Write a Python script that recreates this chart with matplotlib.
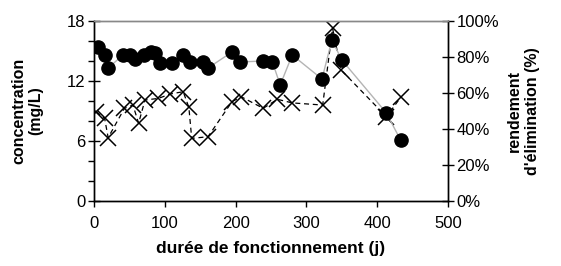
import matplotlib
matplotlib.use("Agg")
import matplotlib.pyplot as plt
from matplotlib.ticker import MultipleLocator, FuncFormatter

plt.rcParams['font.family'] = ['Liberation Sans', 'DejaVu Sans']

# concentration (mg/L) - ronds noirs
jours_conc = [6, 15.5, 20, 41, 51, 58, 70, 81, 86, 93, 110, 126, 136,
              154, 161, 195, 206, 239, 252, 263, 280, 322, 336, 350, 413, 433]
concentration = [15.4, 14.6, 13.3, 14.6, 14.6, 14.2, 14.6, 14.9, 14.8, 13.8,
                 13.8, 14.6, 13.9, 13.9, 13.3, 14.9, 13.9, 14.0, 13.9, 11.6,
                 14.6, 12.2, 16.1, 14.1, 8.8, 6.1]

# rendement d'élimination (%) - croix
jours_rend = [3, 15, 20, 43, 55, 63, 72, 91, 108, 126, 134, 138, 161,
              195, 208, 239, 259, 280, 323, 337, 349, 413, 434]
rendement = [49.6, 45.9, 35.2, 51.5, 53.3, 43.2, 56.1, 57.0, 59.5, 60.7,
             52.0, 34.8, 35.7, 55.2, 57.9, 51.5, 56.5, 54.5, 53.3, 95.9,
             72.8, 46.8, 58.0]

fig = plt.figure(figsize=(5.61, 2.66), dpi=100)
ax = fig.add_axes([94 / 561, 1 - 201 / 266, (448 - 94) / 561, 180 / 266])
ax2 = ax.twinx()

ax2.plot(jours_rend, rendement, color='black', lw=0.9, ls=(0, (4, 3)),
         marker='x', ms=12, mew=1.1, mec='black', zorder=2)
ax.plot(jours_conc, concentration, color='#b4b4b4', lw=1.0,
        marker='o', ms=9.5, mfc='black', mec='black', zorder=3)

# ronds au-dessus des croix
ax.set_zorder(ax2.get_zorder() + 1)
ax.patch.set_visible(False)

ax.set_xlim(0, 500)
ax.set_ylim(0, 18)
ax2.set_ylim(0, 100)

ax.xaxis.set_major_locator(MultipleLocator(100))
ax.yaxis.set_major_locator(MultipleLocator(6))
ax.yaxis.set_minor_locator(MultipleLocator(2))
ax2.yaxis.set_major_locator(MultipleLocator(20))
ax2.yaxis.set_major_formatter(FuncFormatter(lambda v, p: f"{v:.0f}%"))

for a in (ax, ax2):
    a.spines['top'].set_color('#888888')
    a.spines['top'].set_linewidth(1.0)
    for s in ('left', 'right', 'bottom'):
        a.spines[s].set_linewidth(1.0)

ax.tick_params(axis='x', direction='out', length=4, width=1, labelsize=12, pad=7)
ax.tick_params(axis='y', which='major', direction='inout', length=8, width=1,
               labelsize=12, pad=2)
ax.tick_params(axis='y', which='minor', direction='out', length=4, width=1)
ax2.tick_params(axis='y', direction='inout', length=8, width=1, labelsize=12, pad=2)

ax.set_xlabel("durée de fonctionnement (j)", fontsize=12.5, fontweight='bold', labelpad=7)
ax.set_ylabel("concentration\n(mg/L)", fontsize=11.5, fontweight='bold', labelpad=17)
ax2.set_ylabel("rendement\nd'élimination (%)", fontsize=11.5, fontweight='bold',
               rotation=90, labelpad=6)

fig.savefig("out.png", dpi=100)
